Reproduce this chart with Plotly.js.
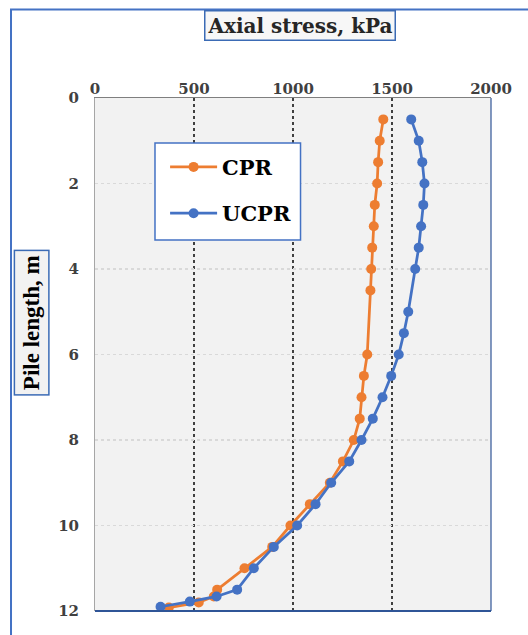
<!DOCTYPE html>
<html>
<head>
<meta charset="utf-8">
<script src="https://cdn.plot.ly/plotly-3.0.1.min.js"></script>
<style>html,body{margin:0;padding:0;background:#fff;}#chart{width:528px;height:635px;}</style>
</head>
<body>
<div id="chart"></div>
<script>
// Pile length (m) and axial stress (kPa)
var depthCPR = [0.5,1,1.5,2,2.5,3,3.5,4,4.5,6,6.5,7,7.5,8,8.5,9,9.5,10,10.5,11,11.5,11.66,11.8,11.92];
var stressCPR = [1456,1438,1430,1425,1413,1408,1400,1395,1391,1375,1358,1346,1337,1307,1252,1186,1085,987,895,755,617,600,524,373];
var depthUCPR = [0.5,1,1.5,2,2.5,3,3.5,4,5,5.5,6,6.5,7,7.5,8,8.5,9,9.5,10,10.5,11,11.5,11.66,11.78,11.9];
var stressUCPR = [1597,1635,1653,1664,1658,1647,1635,1617,1582,1560,1534,1496,1452,1403,1346,1284,1193,1114,1021,903,802,718,614,479,331];
var seriesNames = ['CPR','UCPR'];
var xTickVals = [0,500,1000,1500,2000];
var yTickVals = [0,2,4,6,8,10,12];
var xTitle = 'Axial stress, kPa';
var yTitle = 'Pile length, m';

var FONT = 'DejaVu Serif';
var traces = [
  {x: stressCPR, y: depthCPR, name: seriesNames[0], legendgroup:'a', mode:'lines+markers', type:'scatter',
   line:{color:'#ED7D31', width:2.75}, marker:{color:'#ED7D31', size:10}},
  {x: stressUCPR, y: depthUCPR, name: seriesNames[1], legendgroup:'b', mode:'lines+markers', type:'scatter',
   line:{color:'#4472C4', width:2.75}, marker:{color:'#4472C4', size:10}}
];
var layout = {
  width:528, height:635,
  margin:{l:95, r:37, t:98, b:24},
  paper_bgcolor:'#ffffff', plot_bgcolor:'#f2f2f2',
  showlegend:true,
  legend:{x:0.177, y:0.905, xanchor:'left', yanchor:'top', bgcolor:'rgba(0,0,0,0)', borderwidth:0,
    font:{family:FONT, weight:'bold', size:21, color:'#000'}, traceorder:'grouped', tracegroupgap:16, itemwidth:47},
  xaxis:{side:'top', range:[0,2000], tickvals:xTickVals, ticktext:xTickVals.map(String), showgrid:true,
    gridcolor:'#404040', griddash:'dot', gridwidth:1.5, zeroline:false, showline:true, linecolor:'#7f7f7f', linewidth:1.5,
    ticks:'', tickfont:{family:FONT, weight:'bold', size:15, color:'#404040'}, ticklabelstandoff:-3},
  yaxis:{range:[12,0], tickvals:yTickVals, ticktext:yTickVals.map(String), showgrid:true,
    gridcolor:'#d9d9d9', griddash:'dot', gridwidth:1.2, zeroline:false, showline:true, linecolor:'#a6a6a6', linewidth:1,
    ticks:'', tickfont:{family:FONT, weight:'bold', size:15, color:'#404040'}, ticklabelstandoff:12},
  shapes:[
    {type:'rect', xref:'paper', yref:'paper', x0:-0.2121, x1:1.3, y0:-0.3, y1:1.1725, line:{color:'#4472C4', width:2}, layer:'below'},
    {type:'line', xref:'paper', yref:'paper', x0:0, x1:1, y0:0, y1:0, line:{color:'#2F5597', width:2}, layer:'above'},
    {type:'line', xref:'paper', yref:'paper', x0:1, x1:1, y0:0, y1:1, line:{color:'#2F5597', width:1.2}, layer:'above'},
    {type:'rect', xref:'paper', yref:'paper', x0:0.1515, x1:0.519, y0:0.7232, y1:0.9123, fillcolor:'#ffffff', line:{color:'#4472C4', width:1.5}, layer:'above'}
  ],
  annotations:[
    {text:xTitle, xref:'paper', yref:'paper', x:0.5177, y:1.1413, xanchor:'center', yanchor:'middle', showarrow:false,
     font:{family:FONT, weight:'bold', size:20, color:'#262626'}, bgcolor:'#f7f7f7', bordercolor:'#3B6BB5', borderwidth:1.5, borderpad:2},
    {text:yTitle, xref:'paper', yref:'paper', x:-0.16, y:0.5614, xanchor:'center', yanchor:'middle', showarrow:false, textangle:-90,
     font:{family:'Liberation Serif', weight:'bold', size:23, color:'#000'}, bgcolor:'#f2f2f2', bordercolor:'#3B6BB5', borderwidth:1.5, borderpad:4}
  ]
};
Plotly.newPlot('chart', traces, layout, {displayModeBar:false, staticPlot:true});
</script>
</body>
</html>
